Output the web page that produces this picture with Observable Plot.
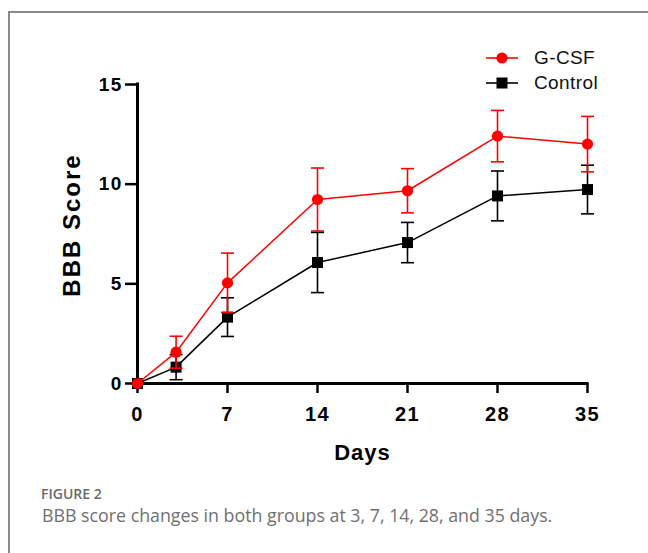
<!DOCTYPE html>
<html>
<head>
<meta charset="utf-8">
<script src="https://cdn.jsdelivr.net/npm/d3@7"></script>
<script src="https://cdn.jsdelivr.net/npm/@observablehq/plot@0.6"></script>
<style>
  html, body { margin: 0; padding: 0; background: #fff; }
  #wrap { position: relative; width: 648px; height: 553px; overflow: hidden; background: #fff; }
  #border { position: absolute; left: 8px; top: 11px; width: 700px; height: 700px;
            border-left: 2px solid #8a8a8a; border-top: 2px solid #8a8a8a; }
  #chart { position: absolute; left: 0; top: 0; }
  #chart svg g[aria-label="y-axis tick label"] text,
  #chart svg g[aria-label="x-axis tick label"] text { letter-spacing: 1.3px; }
  #legend { position: absolute; left: 486px; top: 45px; font-family: "Liberation Sans", Arial, sans-serif; font-size: 19px; letter-spacing: 0.4px; color: #111; }
  .lg { display: flex; align-items: center; height: 25px; }
  .lg svg { margin-right: 16px; }
  #figlabel { position: absolute; left: 41px; top: 484px; font-family: "Open Sans", sans-serif; font-size: 14px; font-weight: 600; color: #6a6a6a; }
  #figcap { position: absolute; left: 42px; top: 503px; font-family: "Open Sans", sans-serif; font-size: 17.8px; font-weight: 400; color: #707070; }
</style>
</head>
<body>
<div id="wrap">
  <div id="border"></div>
  <div id="chart"></div>
  <div id="legend"></div>
  <div id="figlabel">FIGURE 2</div>
  <div id="figcap">BBB score changes in both groups at 3, 7, 14, 28, and 35 days.</div>
</div>
<script>
const days = [0, 3, 7, 14, 21, 28, 35];
const gcsfMean = [0, 1.57, 5.05, 9.23, 9.67, 12.41, 12.01];
const gcsfSD   = [0, 0.80, 1.49, 1.58, 1.11, 1.29, 1.39];
const controlMean = [0, 0.82, 3.33, 6.07, 7.07, 9.41, 9.73];
const controlSD   = [0, 0.63, 0.97, 1.51, 1.01, 1.25, 1.22];
const groups = ["G-CSF", "Control"];
const groupColors = ["#ff0000", "#000000"];
const xTicks = [0, 7, 14, 21, 28, 35];
const yTicks = [0, 5, 10, 15];

const gcsf = days.map((d, i) => ({day: d, mean: gcsfMean[i], sd: gcsfSD[i]}));
const control = days.map((d, i) => ({day: d, mean: controlMean[i], sd: controlSD[i]}));

const cap = { draw(ctx, size) { const w = 6.5; ctx.moveTo(-w, 0); ctx.lineTo(w, 0); } };

function seriesMarks(data, color, symbol, r) {
  const err = data.filter(d => d.sd > 0);
  return [
    Plot.ruleX(err, {x: "day", y1: d => d.mean - d.sd, y2: d => d.mean + d.sd, stroke: color, strokeWidth: 1.6}),
    Plot.dot(err, {x: "day", y: d => d.mean + d.sd, symbol: cap, stroke: color, strokeWidth: 1.6, r: 4}),
    Plot.dot(err, {x: "day", y: d => d.mean - d.sd, symbol: cap, stroke: color, strokeWidth: 1.6, r: 4}),
    Plot.line(data, {x: "day", y: "mean", stroke: color, strokeWidth: 1.5}),
    Plot.dot(data, {x: "day", y: "mean", symbol, r, fill: color, stroke: "none"})
  ];
}

const font = '"Liberation Sans", Arial, sans-serif';
const plot = Plot.plot({
  width: 648,
  height: 470,
  marginTop: 84,
  marginBottom: 87,
  marginLeft: 137,
  marginRight: 61,
  style: {background: "none", fontFamily: font, color: "#000", overflow: "visible"},
  x: {domain: [0, 35]},
  y: {domain: [0, 15]},
  marks: [
    Plot.axisY({ticks: yTicks, tickSize: 12, tickPadding: 3, strokeWidth: 2.5, fontSize: 19, fontWeight: "bold", label: null}),
    Plot.axisX({ticks: xTicks, tickSize: 10, tickPadding: 13, strokeWidth: 2.5, fontSize: 20, fontWeight: "bold", label: null}),
    Plot.ruleY([0], {strokeWidth: 3, strokeLinecap: "square"}),
    Plot.ruleX([0], {strokeWidth: 3, strokeLinecap: "square"}),
    ...seriesMarks(control, groupColors[1], "square", 6.2),
    ...seriesMarks(gcsf, groupColors[0], "circle", 5.6),
    Plot.text(["Days"], {frameAnchor: "bottom", lineAnchor: "middle", dy: 69, fontSize: 22, fontWeight: "bold", fill: "#000"}),
    Plot.text(["BBB Score"], {frameAnchor: "left", textAnchor: "middle", lineAnchor: "middle", dx: -65, dy: -9, rotate: -90, fontSize: 24, fontWeight: "bold", fill: "#000"})
  ]
});
document.getElementById("chart").appendChild(plot);
// widen axis titles to match reference lettering
plot.querySelectorAll("text").forEach(t => {
  if (t.textContent === "BBB Score") t.setAttribute("letter-spacing", "2");
  if (t.textContent === "Days") t.setAttribute("letter-spacing", "1");
});

// legend
const legend = document.getElementById("legend");
groups.forEach((g, i) => {
  const row = document.createElement("div");
  row.className = "lg";
  const c = groupColors[i];
  const marker = i === 0
    ? `<circle cx="16" cy="10" r="5.6" fill="${c}"/>`
    : `<rect x="10.5" y="4.5" width="11" height="11" fill="${c}"/>`;
  row.innerHTML = `<svg width="32" height="20"><line x1="0" x2="32" y1="10" y2="10" stroke="${c}" stroke-width="1.6"/>${marker}</svg><span>${g}</span>`;
  legend.appendChild(row);
});
</script>
</body>
</html>
